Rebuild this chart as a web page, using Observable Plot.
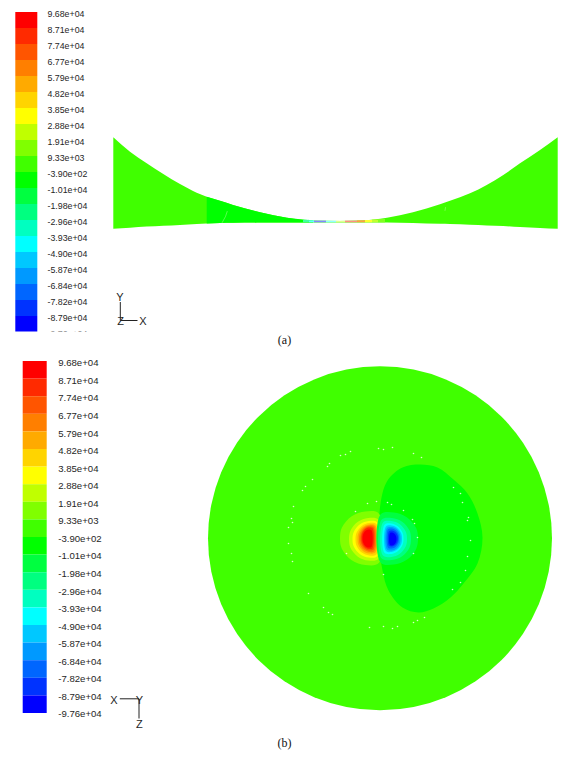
<!DOCTYPE html>
<html>
<head>
<meta charset="utf-8">
<style>html,body{margin:0;padding:0;background:#fff}svg{display:block}</style>
<script src="https://cdn.jsdelivr.net/npm/d3@7"></script>
<script src="https://cdn.jsdelivr.net/npm/@observablehq/plot@0.6"></script>
</head>
<body>
<div id="chart"></div>
<script>
// Legend
const levelLabels = ["9.68e+04","8.71e+04","7.74e+04","6.77e+04","5.79e+04","4.82e+04","3.85e+04","2.88e+04","1.91e+04","9.33e+03","-3.90e+02","-1.01e+04","-1.98e+04","-2.96e+04","-3.93e+04","-4.90e+04","-5.87e+04","-6.84e+04","-7.82e+04","-8.79e+04","-9.76e+04"];
const bandColors = ["#ff0000","#ff2a00","#ff5500","#ff7f00","#ffaa00","#ffd400","#ffff00","#c0ff00","#80ff00","#40ff00","#00ff00","#00ff40","#00ff80","#00ffc0","#00ffff","#00c8ff","#0099ff","#0066ff","#0033ff","#0000ff"];

// Panel (a): section through the surface, edges
const sliceX      = [113.3,130,146.7,163.3,180,196.7,206.7,220,233,260,287,313,340,360,387,413,440,450,470,486.7,503.3,520,540,557.7];
const sliceTop    = [137.3,151.7,163.3,174,184,192.7,196.7,200.8,205,212.3,217.7,220.5,221,220.6,217.7,212.3,204.3,200.7,193.3,185,175,163.3,150,137.3];
const sliceBottom = [228.7,227.7,226.6,225.8,225,224,223.5,223,222.8,222.6,222.5,222.4,222.4,222.4,222.4,223,223.8,224,224.8,225.4,226,227,228,228.8];
const stripEdges = [303,309,314,326,336,345,357,365,372,378,385];
const stripColors = ["#40ffa0","#60ffff","#8088ff","#90ffff","#e0ff90","#ff9080","#ffa040","#ffff30","#c0ff30","#80ff20"];
const stripTop = [219.8,220.3,220.6,220.8,220.8,220.6,220.3,220,219.5,219];
const sliceFlawX = [226.7,225,221.7, 445,444.5];
const sliceFlawY = [211,216,222, 207,210];
const sliceFlawId = ["a","a","a","b","b"];

// Panel (b): disc, contour regions
const discX = 379.5, discY = 537.8, discRadius = 172;
const blobX = [420,437,453,467,477,482,477,463,450,433,418,402,388,382,379,380,387,402];
const blobY = [464,467,479,493,513,537,563,583,597,608,612,607,590,570,543,503,480,467];
const redColors = ["#80ff00","#c0ff00","#ffff00","#ffd400","#ffaa00","#ff7f00","#ff5500","#ff2a00","#ff0000"];
const redLeft   = [339.5,348.5,352,355,357,358.5,360,361,362];
const redRight  = [378.5,378,377,376,375,374,373,372,371];
const redTop    = [511,517.5,520.5,522.5,524,525,526,527,529];
const redBottom = [564.5,560,557,555,553,551.5,550,548.5,547];
const blueColors = ["#00ff40","#00ff80","#00ffc0","#00ffff","#00c8ff","#0099ff","#0066ff","#0033ff","#0000ff"];
const blueLeft   = [380,381,382.5,384,385.5,386.5,387.5,388.5,389.5];
const blueRight  = [417.5,410.5,406.5,403,401.5,400,398.5,397.5,396];
const blueTop    = [512,517.5,520.5,523,525,526.5,528,530,532];
const blueBottom = [564,559.5,556.5,553.5,551.5,550,548,546,545];
const speckX = [378,383,392,413,421,345,340,350,329,327,312,305,302,293,291,292,288,288,291,292,308,323,328,332,369,383,392,397,413,417,424,452,460,465,467,470,467,468,462,460,453,367,376,387,391,403,412,414,417,413,383,355,346];
const speckY = [448,449,447,453,457,454,455,451,463,466,479,486,490,506,518,522,527,543,553,561,593,607,612,614,627,626,628,626,622,620,617,589,582,570,556,540,520,517,502,493,487,503,501,502,504,510,519,523,537,553,574,511,553];

// Half-lobe outline shape: distance from the straight edge, height from the centre
const lobeU = [0,.35,.7,.95,1,.95,.7,.35,0];
const lobeV = [-.92,-1,-.82,-.4,0,.4,.82,1,.92];

const lobeRows = [];
redColors.forEach((c,i)=>lobeU.forEach((u,k)=>lobeRows.push({
  id:"r"+i, color:c,
  x:redRight[i]-u*(redRight[i]-redLeft[i]),
  y:(redTop[i]+redBottom[i])/2+lobeV[k]*(redBottom[i]-redTop[i])/2})));
blueColors.forEach((c,i)=>lobeU.forEach((u,k)=>lobeRows.push({
  id:"b"+i, color:c,
  x:blueLeft[i]+u*(blueRight[i]-blueLeft[i]),
  y:(blueTop[i]+blueBottom[i])/2+lobeV[k]*(blueBottom[i]-blueTop[i])/2})));

const zip = (xs,ys)=>xs.map((x,i)=>({x,y:ys[i]}));
const sliceRows = sliceX.map((x,i)=>({x,top:sliceTop[i],bottom:sliceBottom[i]}));
const innerRows = sliceRows.filter(d=>d.x>=206.7 && d.x<=313);

const sansFont = "'Liberation Sans', Arial, sans-serif";
const textColor = "#262626";

const barA = {left:15.3,right:37.3,top:12,step:16,labelStep:16,labelX:47,fontSize:8.8,labelOffset:1.8};
const barB = {left:22.7,right:46.7,top:361,step:17.6,labelStep:17.55,labelX:57.7,fontSize:9.6,labelOffset:1.8};
const barAClip = 331.5;

function barMarks(b){
  const bands = bandColors.map((c,i)=>({c,y1:b.top+i*b.step,y2:b.top+(i+1)*b.step}));
  const labels = levelLabels.map((t,i)=>({t,y:b.top+b.labelOffset+i*b.labelStep}));
  return [
    Plot.rect(bands,{x1:()=>b.left,x2:()=>b.right,y1:"y1",y2:"y2",fill:"c",inset:0}),
    Plot.text(labels,{x:()=>b.labelX,y:"y",text:"t",textAnchor:"start",lineAnchor:"middle",fontFamily:sansFont,fontSize:b.fontSize,fill:textColor})
  ];
}

const triadLinks = [
  {x1:119.8,y1:301.5,x2:119.8,y2:320},
  {x1:119.8,y1:320,x2:137,y2:320},
  {x1:119.3,y1:698.3,x2:138.5,y2:698.3},
  {x1:138.5,y1:698.3,x2:138.5,y2:718}
];
const triadLabels = [
  {t:"Y",x:119.5,y:297},{t:"Z",x:120,y:320.5},{t:"X",x:142.3,y:320.5},
  {t:"X",x:113.5,y:699.5},{t:"Y",x:138.8,y:699.5},{t:"Z",x:138.8,y:724}
];
const captions = [{t:"(a)",x:284,y:340},{t:"(b)",x:284,y:742.5}];

const chart = Plot.plot({
  width:573, height:757,
  marginTop:0, marginRight:0, marginBottom:0, marginLeft:0,
  style:{background:"#fff"},
  x:{domain:[0,573],range:[0,573],axis:null},
  y:{domain:[0,757],range:[0,757],axis:null},
  color:{type:"identity"},
  marks:[
    // (a)
    ...barMarks(barA),
    Plot.rect([0],{x1:()=>10,x2:()=>100,y1:()=>barAClip,y2:()=>345,fill:"#fff"}),
    Plot.areaY(sliceRows,{x:"x",y1:"top",y2:"bottom",fill:"#40ff00",curve:"monotone-x"}),
    Plot.areaY(innerRows,{x:"x",y1:"top",y2:"bottom",fill:"#00ff00",curve:"monotone-x"}),
    Plot.rect(stripColors.map((c,i)=>({c,x1:stripEdges[i],x2:stripEdges[i+1],y1:stripTop[i],y2:222.3})),{x1:"x1",x2:"x2",y1:"y1",y2:"y2",fill:"c"}),
    Plot.line(sliceFlawX.map((x,i)=>({x,y:sliceFlawY[i],id:sliceFlawId[i]})),{x:"x",y:"y",z:"id",stroke:"#c8ffb0",strokeWidth:0.6,strokeOpacity:0.7}),
    // (b)
    ...barMarks(barB),
    Plot.dot([0],{x:()=>discX,y:()=>discY,r:discRadius,fill:"#40ff00",stroke:"none"}),
    Plot.line(zip(blobX,blobY),{x:"x",y:"y",fill:"#00ff00",stroke:"none",curve:"catmull-rom-closed"}),
    Plot.line(lobeRows,{x:"x",y:"y",z:"id",fill:"color",stroke:"none",curve:"catmull-rom-closed"}),
    Plot.dot(zip(speckX,speckY),{x:"x",y:"y",r:0.8,fill:"#fff",fillOpacity:0.8,stroke:"none"}),
    // triads
    Plot.link(triadLinks,{x1:"x1",y1:"y1",x2:"x2",y2:"y2",stroke:"#222",strokeWidth:1}),
    Plot.text(triadLabels,{x:"x",y:"y",text:"t",fontFamily:sansFont,fontSize:11,fill:textColor,lineAnchor:"middle"}),
    // captions
    Plot.text(captions,{x:"x",y:"y",text:"t",fontFamily:"'Liberation Serif','Times New Roman',serif",fontSize:12,fill:"#111",lineAnchor:"middle"})
  ]
});
document.getElementById("chart").appendChild(chart);
</script>
</body>
</html>
